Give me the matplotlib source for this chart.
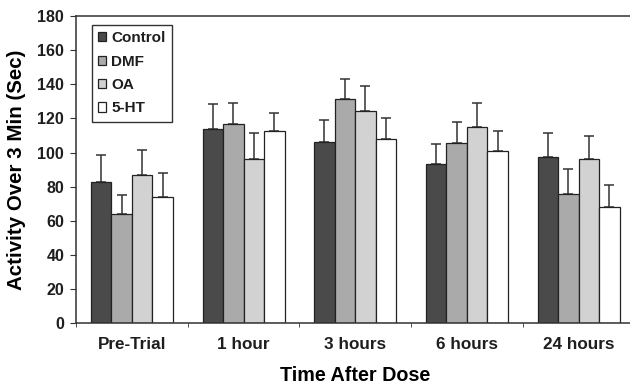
import numpy as np
import matplotlib
matplotlib.use("Agg")
import matplotlib.pyplot as plt

plt.rcParams['font.family'] = ['Liberation Sans', 'DejaVu Sans']
plt.rcParams['font.weight'] = 'bold'
plt.rcParams['text.color'] = '#1e1e1e'

groups = ['Pre-Trial', '1 hour', '3 hours', '6 hours', '24 hours']
series = ['Control', 'DMF', 'OA', '5-HT']
control = [82.8, 113.9, 106.1, 93.6, 97.5]
dmf = [64.3, 116.5, 131.2, 105.7, 75.8]
oa = [86.8, 96.5, 124.3, 115.1, 96.5]
ht5 = [73.9, 112.4, 108.1, 100.8, 68.2]
control_err = [15.5, 14.5, 12.9, 11.5, 13.7]
dmf_err = [10.9, 12.3, 12.1, 12.3, 14.3]
oa_err = [15.0, 14.7, 15.0, 13.7, 13.3]
ht5_err = [14.2, 10.5, 11.9, 11.9, 12.7]

values = [control, dmf, oa, ht5]
errors = [control_err, dmf_err, oa_err, ht5_err]
colors = ['#4a4a4a', '#aaaaaa', '#d2d2d2', '#ffffff']

fig = plt.figure(figsize=(6.3, 3.87), dpi=100)
ax = fig.add_axes([0.1206, 0.1646, 0.8865, 0.794])

x = np.arange(len(groups))
w = 0.1835
for i in range(len(series)):
    pos = x + (i - 1.5) * w
    ax.bar(pos, values[i], w, color=colors[i], edgecolor='#222222', linewidth=0.9,
           label=series[i], zorder=2)
    ax.errorbar(pos, values[i], yerr=[np.zeros(len(groups)), errors[i]], fmt='none',
                ecolor='#333333', elinewidth=1.1, capsize=3.5, capthick=1.1, zorder=1)

ax.set_xlim(-0.5, 4.5)
ax.set_ylim(0, 180)
ax.set_yticks(range(0, 181, 20))
ax.set_xticks(x)
ax.set_xticklabels(groups)
ax.set_xticks(np.arange(-0.5, 5, 1), minor=True)
ax.tick_params(axis='x', which='major', length=0, pad=10, labelsize=12.3, labelcolor='#1e1e1e')
ax.tick_params(axis='x', which='minor', length=3, direction='out', color='#333333')
ax.tick_params(axis='y', length=4, direction='out', labelsize=11.5, pad=4.5,
               color='#333333', labelcolor='#1e1e1e')
for lab in ax.get_xticklabels() + ax.get_yticklabels():
    lab.set_fontweight('bold')
for sp in ax.spines.values():
    sp.set_color('#333333')
    sp.set_linewidth(1.1)

ax.set_ylabel('Activity Over 3 Min (Sec)', fontsize=14.8, fontweight='bold', labelpad=8)
ax.set_xlabel('Time After Dose', fontsize=14.2, fontweight='bold', labelpad=10)

leg = ax.legend(loc='upper left', bbox_to_anchor=(0.028, 0.972), borderaxespad=0,
                fancybox=False, edgecolor='#333333', framealpha=1,
                handlelength=0.55, handleheight=0.55, handletextpad=0.33,
                labelspacing=0.62, borderpad=0.42,
                prop={'weight': 'bold', 'size': 11})
leg.get_frame().set_linewidth(1.0)

plt.savefig("out.png", dpi=100)
